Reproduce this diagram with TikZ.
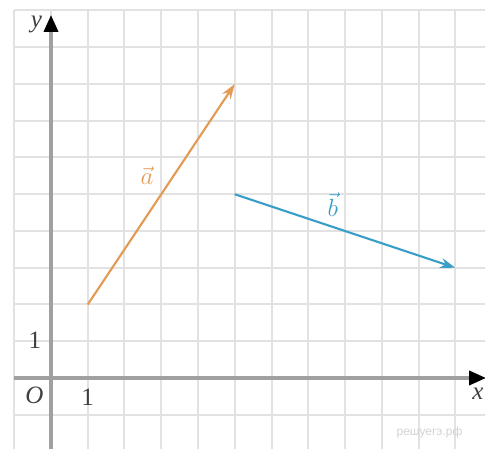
\documentclass[tikz,border=0pt]{standalone}
\usepackage{fontspec}
\setmainfont{Liberation Serif}
\newfontfamily\wmfont{Liberation Sans}
\usetikzlibrary{arrows.meta}
\definecolor{gridc}{HTML}{E2E2E2}
\definecolor{axisc}{HTML}{A0A0A0}
\definecolor{veca}{HTML}{E39A55}
\definecolor{vecb}{HTML}{3A9EC6}
\definecolor{wmc}{HTML}{D2D2D2}
\begin{document}
\begin{tikzpicture}[x=36.75pt,y=36.75pt,
  gridline/.style={draw=gridc, line width=2pt},
  axisline/.style={draw=axisc, line width=3.5pt, -{Triangle[length=17pt,width=14pt,color=black]}},
  vecline/.style={line width=2.2pt, -{Stealth[length=15pt,width=10pt]}},
  lbl/.style={font=\fontsize{25}{27}\selectfont, text=black!75, inner sep=0pt},
  ilbl/.style={lbl, font=\fontsize{25}{27}\selectfont\itshape},
  veclbl/.style={font=\fontsize{24}{26}\selectfont, inner sep=0pt}]
\useasboundingbox (-51pt,-71pt) rectangle (434pt,378pt);
% grid
\foreach \i in {-1,...,11} \draw[gridline] (\i,-1.95) -- (\i,10);
\foreach \j in {-1,...,10} \draw[gridline] (-1,\j) -- (11.82,\j);
% axes
\coordinate (xs) at (-1,0);
\coordinate (xe) at (11.84,0);
\coordinate (ys) at (0,-1.95);
\coordinate (ye) at (0,9.88);
\draw[axisline] (xs) -- (xe);
\draw[axisline] (ys) -- (ye);
% labels
\node[ilbl] (ylab) at (-0.40,9.63) {y};
\node[ilbl] (xlab) at (11.62,-0.42) {x};
\node[ilbl] (olab) at (-0.45,-0.47) {O};
\node[lbl] (one_x) at (1,-0.52) {1};
\node[lbl] (one_y) at (-0.44,1.02) {1};
% vectors
\coordinate (a1) at (1,2);
\coordinate (a2) at (5,8);
\coordinate (b1) at (5,5);
\coordinate (b2) at (11,3);
\draw[vecline, draw=veca, color=veca] (a1) -- (a2);
\draw[vecline, draw=vecb, color=vecb] (b1) -- (b2);
\node[veclbl, text=veca] (alab) at (2.61,5.50) {$\vec{a}$};
\node[veclbl, text=vecb] (blab) at (7.67,4.72) {$\vec{b}$};
% watermark
\node[inner sep=0pt, text=wmc, font=\wmfont\fontsize{12}{14}\selectfont] (wm) at (10.30,-1.47) {решуегэ.рф};
\end{tikzpicture}
\end{document}
